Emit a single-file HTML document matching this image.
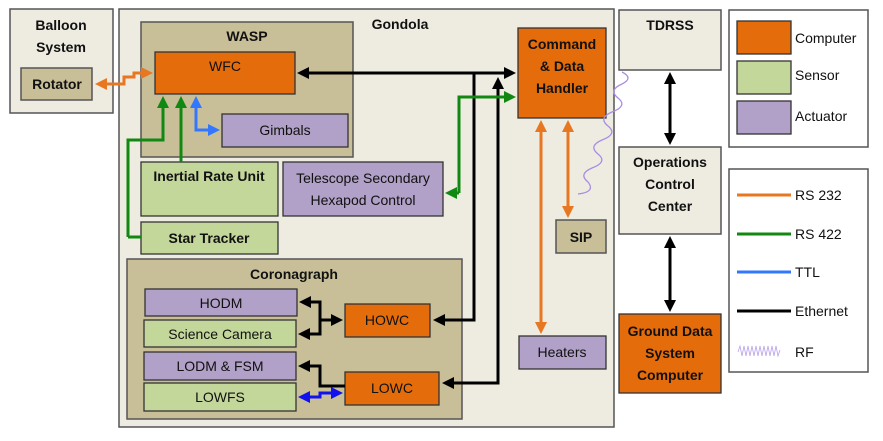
<!DOCTYPE html>
<html><head><style>
body{margin:0;background:#fff;}
svg text{font-family:"Liberation Sans",sans-serif;}
</style></head><body>
<svg width="883" height="436" viewBox="0 0 883 436" xmlns="http://www.w3.org/2000/svg">
<defs>
<marker id="ab" markerWidth="4" markerHeight="4" refX="3" refY="2" orient="auto-start-reverse" markerUnits="strokeWidth"><path d="M0,0 L4,2 L0,4 z" fill="#000"/></marker>
<marker id="ao" markerWidth="4" markerHeight="4" refX="3" refY="2" orient="auto-start-reverse" markerUnits="strokeWidth"><path d="M0,0 L4,2 L0,4 z" fill="#e87722"/></marker>
<marker id="ag" markerWidth="4" markerHeight="4" refX="3" refY="2" orient="auto-start-reverse" markerUnits="strokeWidth"><path d="M0,0 L4,2 L0,4 z" fill="#118811"/></marker>
<marker id="au" markerWidth="4" markerHeight="4" refX="3" refY="2" orient="auto-start-reverse" markerUnits="strokeWidth"><path d="M0,0 L4,2 L0,4 z" fill="#3377ff"/></marker>
<marker id="an" markerWidth="4" markerHeight="4" refX="3" refY="2" orient="auto-start-reverse" markerUnits="strokeWidth"><path d="M0,0 L4,2 L0,4 z" fill="#1111ee"/></marker>
</defs>
<g stroke="#555" stroke-width="1.5">
<rect x="10" y="9" width="103" height="104" fill="#eeebe1"/>
<rect x="119" y="9" width="495" height="418" fill="#eeebe1"/>
<rect x="619" y="10" width="102" height="60" fill="#eeebe1"/>
<rect x="619" y="147" width="102" height="87" fill="#eeebe1"/>
<rect x="729" y="10" width="139" height="137" fill="#fff"/>
<rect x="729" y="169" width="139" height="203" fill="#fff"/>
<rect x="141" y="22" width="212" height="135" fill="#c8bf99"/>
<rect x="127" y="259" width="335" height="160" fill="#c8bf99"/>
<rect x="21" y="68" width="71" height="32" fill="#c8bf99"/>
<rect x="556" y="220" width="50" height="33" fill="#c8bf99"/>
</g>
<g stroke="#333" stroke-width="1.3">
<rect x="155" y="52" width="140" height="42" fill="#e46c0a"/>
<rect x="518" y="28" width="88" height="90" fill="#e46c0a"/>
<rect x="619" y="314" width="102" height="79" fill="#e46c0a"/>
<rect x="345" y="304" width="85" height="33" fill="#e46c0a"/>
<rect x="345" y="372" width="94" height="33" fill="#e46c0a"/>
<rect x="737" y="21" width="54" height="33" fill="#e46c0a"/>
<rect x="141" y="162" width="137" height="54" fill="#c4d79b"/>
<rect x="141" y="222" width="137" height="32" fill="#c4d79b"/>
<rect x="144" y="320" width="152" height="27" fill="#c4d79b"/>
<rect x="144" y="383" width="152" height="28" fill="#c4d79b"/>
<rect x="737" y="61" width="54" height="33" fill="#c4d79b"/>
<rect x="222" y="114" width="126" height="33" fill="#b1a0c7"/>
<rect x="283" y="162" width="160" height="54" fill="#b1a0c7"/>
<rect x="145" y="289" width="152" height="27" fill="#b1a0c7"/>
<rect x="144" y="352" width="152" height="28" fill="#b1a0c7"/>
<rect x="519" y="336" width="87" height="33" fill="#b1a0c7"/>
<rect x="737" y="101" width="54" height="33" fill="#b1a0c7"/>
</g>
<g fill="none" stroke-width="3">
<path d="M98,84 H124 V77 H134 V73 H150" stroke="#e87722" marker-start="url(#ao)" marker-end="url(#ao)"/>
<path d="M300,73 H513" stroke="#000" marker-start="url(#ab)" marker-end="url(#ab)"/>
<path d="M474,73 V320 H436" stroke="#000" marker-end="url(#ab)"/>
<path d="M498,80 V383 H445" stroke="#000" marker-start="url(#ab)" marker-end="url(#ab)"/>
<path d="M459,193 V97 H513" stroke="#118811" marker-end="url(#ag)"/>
<path d="M459,193 H448" stroke="#118811" marker-end="url(#ag)"/>
<path d="M128,237 H141 M128,237 V140 H163 V99" stroke="#118811" marker-end="url(#ag)"/>
<path d="M181,162 V99" stroke="#118811" marker-end="url(#ag)"/>
<path d="M196,99 V130 H217" stroke="#3377ff" marker-start="url(#au)" marker-end="url(#au)"/>
<path d="M541,123 V331" stroke="#e87722" marker-start="url(#ao)" marker-end="url(#ao)"/>
<path d="M568,123 V215" stroke="#e87722" marker-start="url(#ao)" marker-end="url(#ao)"/>
<path d="M670,75 V142" stroke="#000" marker-start="url(#ab)" marker-end="url(#ab)"/>
<path d="M670,239 V309" stroke="#000" marker-start="url(#ab)" marker-end="url(#ab)"/>
<path d="M340,320 H320 V302 H302 M320,320 V334 H301" stroke="#000"/>
<path d="M322,320 H340" stroke="#000" marker-end="url(#ab)"/>
<path d="M318,302 H302" stroke="#000" marker-end="url(#ab)"/>
<path d="M318,334 H301" stroke="#000" marker-end="url(#ab)"/>
<path d="M345,386 H320 V366 H301" stroke="#000" marker-end="url(#ab)"/>
<path d="M301,397 H320 V393 H340" stroke="#1111ee" marker-start="url(#an)" marker-end="url(#an)"/>
<path d="M737,195 H791" stroke="#e87722"/>
<path d="M737,234 H791" stroke="#118811"/>
<path d="M737,272 H791" stroke="#3377ff"/>
<path d="M737,311 H791" stroke="#000"/>
</g>
<path d="M622,72 q12,6 0,12 q-14,6 -4,14 q10,8 -6,14 q-14,6 -4,14 q10,8 -6,14 q-14,6 -4,14 q10,8 -6,14 q-14,6 -4,14 q8,10 -10,12" fill="none" stroke="#a88ee0" stroke-width="1.3"/>
<path d="M738,352 l2,-6 l2,10 l2,-10 l2,10 l2,-10 l2,10 l2,-10 l2,10 l2,-10 l2,10 l2,-10 l2,10 l2,-10 l2,10 l2,-10 l2,10 l2,-10 l2,10 l2,-10 l2,10 l2,-6" fill="none" stroke="#b9a3ea" stroke-width="0.8"/>
<g font-size="14" fill="#111" text-anchor="middle">
<g font-weight="bold">
<text x="61" y="30">Balloon</text><text x="61" y="52">System</text>
<text x="57" y="89">Rotator</text>
<text x="400" y="29">Gondola</text>
<text x="247" y="41">WASP</text>
<text x="209" y="181">Inertial Rate Unit</text>
<text x="209" y="243">Star Tracker</text>
<text x="294" y="279">Coronagraph</text>
<text x="562" y="49">Command</text><text x="562" y="71">&amp; Data</text><text x="562" y="93">Handler</text>
<text x="581" y="242">SIP</text>
<text x="670" y="30">TDRSS</text>
<text x="670" y="167">Operations</text><text x="670" y="189">Control</text><text x="670" y="211">Center</text>
<text x="670" y="336">Ground Data</text><text x="670" y="358">System</text><text x="670" y="380">Computer</text>
</g>
<text x="225" y="71">WFC</text>
<text x="285" y="135">Gimbals</text>
<text x="363" y="183">Telescope Secondary</text><text x="363" y="205">Hexapod Control</text>
<text x="221" y="308">HODM</text>
<text x="220" y="339">Science Camera</text>
<text x="220" y="371">LODM &amp; FSM</text>
<text x="220" y="402">LOWFS</text>
<text x="387" y="325">HOWC</text>
<text x="392" y="393">LOWC</text>
<text x="562" y="357">Heaters</text>
<g text-anchor="start">
<text x="795" y="43">Computer</text>
<text x="795" y="80">Sensor</text>
<text x="795" y="121">Actuator</text>
<text x="795" y="200">RS 232</text>
<text x="795" y="239">RS 422</text>
<text x="795" y="277">TTL</text>
<text x="795" y="316">Ethernet</text>
<text x="795" y="357">RF</text>
</g>
</g>
</svg>
</body></html>
